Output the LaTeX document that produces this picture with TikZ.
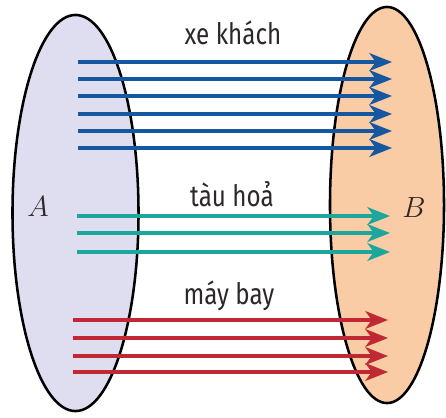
\documentclass[tikz,border=0pt]{standalone}
\usepackage{amsmath,amssymb}
\usepackage{fontspec}
\usepackage{tikz}
\usetikzlibrary{arrows.meta,positioning,shapes.geometric}
\newfontfamily\labelfont[FakeStretch=0.82]{Fira Sans}
\definecolor{setLilac}{RGB}{222, 222, 240}
\definecolor{setPeach}{RGB}{250, 204, 166}
\definecolor{busBlue}{RGB}{22, 88, 160}
\definecolor{trainTeal}{RGB}{28, 166, 156}
\definecolor{planeRed}{RGB}{192, 40, 52}
\definecolor{inkGrey}{RGB}{45, 40, 40}
\tikzset{
  setshape/.style={draw=black, ellipse, line width=1.8pt, inner sep=0pt,
    minimum width=3.15cm, minimum height=9.9cm},
  trip/.style={line width=2.8pt, -{Stealth[length=16pt, width=12.5pt, inset=4.5pt]}},
  modelabel/.style={anchor=base, text=inkGrey, font=\labelfont\fontsize{21pt}{24pt}\selectfont},
  setlabel/.style={text=inkGrey, font=\fontsize{21pt}{24pt}\selectfont}
}

\begin{document}
\begin{tikzpicture}[x=0.025cm, y=-0.025cm]
  \useasboundingbox (0,0) rectangle (446,417);

  % the two sets
  \node[setshape, fill=setLilac] (setA) at (75.5,213) {};
  \node[setshape, fill=setPeach, minimum width=2.85cm] (setB) at (387,205) {};
  \node[setlabel] (labA) at (38,207) {$A$};
  \node[setlabel] (labB) at (414,208) {$B$};

  % xe khach
  \node[modelabel] (bus) at (233,44) {xe khách};
  \foreach \y [count=\i] in {62,79,96,114,131,148} {
    \coordinate (busS\i) at (78,\y);
    \coordinate (busE\i) at (392,\y);
    \draw[trip, busBlue] (busS\i) -- (busE\i);
  }

  % tau hoa
  \node[modelabel] (train) at (232,206) {tàu hoả};
  \foreach \y [count=\i] in {216,233,252} {
    \coordinate (trainS\i) at (77,\y);
    \coordinate (trainE\i) at (390,\y);
    \draw[trip, trainTeal] (trainS\i) -- (trainE\i);
  }

  % may bay
  \node[modelabel] (plane) at (229,304) {máy bay};
  \foreach \y [count=\i] in {320,338,356,372} {
    \coordinate (planeS\i) at (73,\y);
    \coordinate (planeE\i) at (388,\y);
    \draw[trip, planeRed] (planeS\i) -- (planeE\i);
  }
\end{tikzpicture}
\end{document}
